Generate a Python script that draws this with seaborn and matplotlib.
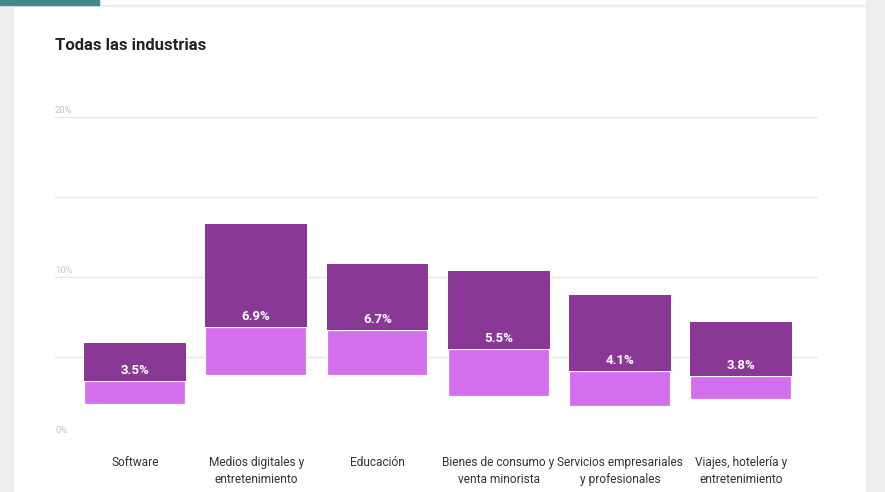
import numpy as np
import pandas as pd
import matplotlib.pyplot as plt
from matplotlib.patches import Rectangle
import matplotlib.transforms as mtransforms
import seaborn as sns

# ── DATA ────────────────────────────────────────────────────
industries = ['Software', 'Medios digitales y\nentretenimiento', 'Educación',
              'Bienes de consumo y\nventa minorista',
              'Servicios empresariales\ny profesionales',
              'Viajes, hotelería y\nentretenimiento']
median_vals = [3.5, 6.9, 6.7, 5.5, 4.1, 3.8]
low_vals = [2.0, 3.8, 3.8, 2.5, 1.9, 2.3]
high_vals = [5.9, 13.3, 10.8, 10.4, 8.9, 7.2]
grid_ticks = [0, 5, 10, 15, 20]
tick_labels = {0: '0%', 10: '10%', 20: '20%'}

df = pd.DataFrame({'industry': industries, 'median': median_vals,
                   'low': low_vals, 'high': high_vals})
df['upper'] = df['high'] - df['median']
df['lower'] = df['median'] - df['low']

DARK = '#893995'
LIGHT = '#d36fec'

sns.set_style('white')
plt.rcParams['font.family'] = ['Roboto', 'DejaVu Sans']

W, H = 885, 492
fig = plt.figure(figsize=(W / 100, H / 100), dpi=100)

# page decorations
fig.patches.append(Rectangle((0, 0), 13 / W, 1, transform=fig.transFigure,
                             color='#eeeef0', zorder=0))
fig.patches.append(Rectangle((866 / W, 0), 1 - 866 / W, 1, transform=fig.transFigure,
                             color='#eeeef0', zorder=0))
fig.patches.append(Rectangle((14 / W, 1 - 6 / H), 852 / W, 1.2 / H,
                             transform=fig.transFigure, color='#eeeeee', zorder=1))
fig.patches.append(Rectangle((0, 1 - 5 / H), 99 / W, 5 / H, transform=fig.transFigure,
                             color='#3d8a87', zorder=2))

ax = fig.add_axes([55 / W, (H - 437) / H, (818 - 55) / W, (437 - 117) / H])

# ── BARS ────────────────────────────────────────────────────
sns.barplot(data=df, x='industry', y='lower', order=industries,
            bottom=df['low'].to_numpy(), color=LIGHT, width=0.84,
            edgecolor='white', linewidth=1.6, saturation=1, ax=ax, zorder=3)
sns.barplot(data=df, x='industry', y='upper', order=industries,
            bottom=df['median'].to_numpy(), color=DARK, width=0.84,
            linewidth=0, saturation=1, ax=ax, zorder=3)

for i, v in enumerate(median_vals):
    ax.annotate(f'{v}%', (i, v), xytext=(0, 7.5), textcoords='offset points',
                ha='center', va='center', color='white', fontsize=9.5,
                fontweight='bold', zorder=5)

# ── AXES STYLE ──────────────────────────────────────────────
ax.set_xlim(-0.66, 5.635)
ax.set_ylim(0, 20)
ax.set_yticks(grid_ticks)
ax.set_yticklabels([])
ax.grid(axis='y', color='#e6e6e6', linewidth=1)
ax.set_axisbelow(True)
for s in ax.spines.values():
    s.set_visible(False)
ax.set_xlabel('')
ax.set_ylabel('')
ax.tick_params(axis='x', length=0, pad=14, labelsize=8.6, labelcolor='#333333')
ax.tick_params(axis='y', length=0)
for lab in ax.get_xticklabels():
    lab.set_linespacing(1.35)

trans = mtransforms.blended_transform_factory(ax.transAxes, ax.transData)
for t, lab in tick_labels.items():
    ax.annotate(lab, (0, t), xycoords=trans, xytext=(0, 1.5),
                textcoords='offset points', ha='left', va='bottom',
                fontsize=6.8, color='#c4c4c4')

fig.text(55 / W, 1 - 46 / H, 'Todas las industrias', ha='left', va='center',
         fontsize=12, fontweight='bold', color='#222222')

fig.savefig('out.png', dpi=100, facecolor='white')
